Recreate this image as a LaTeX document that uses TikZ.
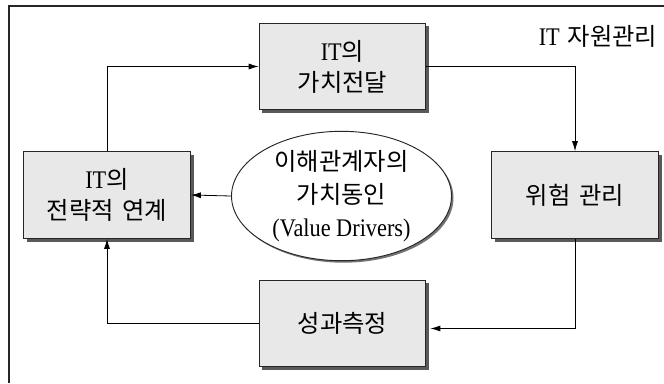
\documentclass[tikz,border=0pt]{standalone}
\usepackage{fontspec}
\setmainfont{Liberation Serif}[FakeStretch=0.88]
\newfontfamily\kr{Noto Sans CJK KR}[Scale=0.96,WordSpace=1.6]
\usetikzlibrary{arrows.meta,shadows,shapes.geometric,calc}
\begin{document}
\begin{tikzpicture}[x=0.75pt,y=-0.75pt,
  every node/.style={font=\fontsize{19}{23.25}\selectfont},
  box/.style={draw=black!85,line width=0.8pt,fill=black!9,minimum width=125pt,minimum height=65pt,align=center,inner sep=2pt,
    drop shadow={shadow xshift=2.4pt,shadow yshift=-2.4pt,fill=black!65,opacity=1}},
  ell/.style={ellipse,draw=black!85,line width=0.7pt,fill=white,minimum width=165pt,minimum height=92pt,align=center,inner sep=0pt,
    drop shadow={shadow xshift=1.5pt,shadow yshift=-1.5pt,fill=black!55,opacity=1}},
  arr/.style={draw=black,line width=0.6pt,-{Latex[length=7.5pt,width=4.5pt]}},
  frame/.style={draw=black!85,line width=0.9pt}]
\useasboundingbox (0,0) rectangle (664,383);
\coordinate (fa) at (9,6);
\coordinate (fb) at (664,6);
\coordinate (fc) at (9,383);
\draw[frame] (fc) -- (fa) -- (fb);
\node[anchor=east] (title) at (662,36) {IT\hspace{6pt}{\kr 자원관리}};
\node[box] (T) at (342.5,66.5) {IT{\kr 의}\\{\kr 가치전달}};
\node[box] (L) at (107,195) {IT{\kr 의}\\{\kr 전략적 연계}};
\node[box] (R) at (575,195) {{\kr 위험 관리}};
\node[box] (B) at (342.5,323.5) {{\kr 성과측정}};
\node[ell,font=\fontsize{19}{24.75}\selectfont] (E) at (341.5,196) {{\kr 이해관계자의}\\{\kr 가치동인}\\(Value Drivers)};
\draw[arr] (L.north) |- (T.west);
\draw[arr] (T.east) -| (R.north);
\draw[arr] (R.south) |- ($(B.east)+(4,5)$);
\draw[arr] (B.west) -| (L.south);
\draw[arr] (E.west) -- (L.east);
\end{tikzpicture}
\end{document}
